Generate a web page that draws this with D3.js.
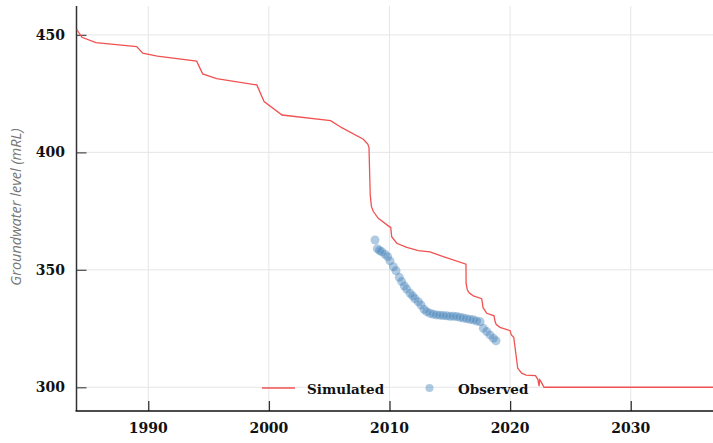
<!DOCTYPE html>
<html>
<head>
<meta charset="utf-8">
<script src="https://cdn.jsdelivr.net/npm/d3@7"></script>
<style>
  html, body { margin: 0; padding: 0; background: #fff; }
  svg { display: block; }
</style>
</head>
<body>
<svg id="chart" width="713" height="443"></svg>
<script>
// ---- data ----
const simYears = [1984.06, 1984.5, 1985.66, 1989.04, 1989.54, 1990.75, 1994.01, 1994.51, 1995.67, 1999.0,
  1999.6, 2001.09, 2005.12, 2006.04, 2007.83, 2008.2, 2008.3, 2008.36, 2008.4, 2008.5,
  2008.66, 2009.07, 2009.98, 2010.1, 2010.18, 2010.6, 2011.43, 2012.39, 2013.36, 2014.46,
  2016.34, 2016.35, 2016.45, 2016.6, 2016.95, 2017.64, 2017.7, 2017.75, 2018.06, 2018.67,
  2018.75, 2018.85, 2019.16, 2020.0, 2020.1, 2020.3, 2020.63, 2020.96, 2021.32, 2022.1,
  2022.3, 2022.4, 2022.45, 2022.55, 2022.81, 2037.0];
const simValues = [452.4, 449.0, 446.7, 445.0, 442.2, 441.0, 438.8, 433.4, 431.4, 428.7,
  421.6, 415.9, 413.5, 410.5, 405.6, 403.5, 402.0, 390.0, 382.0, 377.0,
  374.8, 371.9, 368.4, 368.1, 364.1, 361.3, 359.6, 358.2, 357.6, 355.6,
  352.4, 344.3, 341.5, 340.2, 338.9, 337.7, 336.0, 334.0, 331.5, 330.4,
  328.0, 326.7, 325.5, 324.1, 322.3, 321.3, 308.1, 306.0, 305.2, 305.0,
  303.4, 300.5, 303.2, 302.5, 300.0, 300.0];

const obsYears = [2008.80, 2008.99, 2009.17, 2009.35, 2009.63, 2009.85, 2010.04, 2010.32, 2010.54, 2010.81,
  2011.01, 2011.23, 2011.43, 2011.70, 2011.92, 2012.11, 2012.39, 2012.61, 2012.86, 2013.08,
  2013.36, 2013.63, 2013.91, 2014.19, 2014.46, 2014.74, 2015.02, 2015.29, 2015.57, 2015.85,
  2016.12, 2016.40, 2016.68, 2016.95, 2017.23, 2017.51, 2017.78, 2018.06, 2018.33, 2018.61, 2018.83];
const obsValues = [362.7, 359.0, 358.2, 357.7, 356.6, 355.6, 353.8, 351.3, 349.6, 346.8,
  345.0, 343.1, 341.8, 340.0, 338.9, 337.7, 336.4, 335.0, 333.2, 332.2,
  331.5, 331.1, 330.8, 330.7, 330.5, 330.4, 330.2, 330.2, 330.1, 329.8,
  329.5, 329.2, 328.9, 328.7, 328.2, 327.9, 325.1, 323.7, 322.3, 320.9, 319.8];

const xTicks = [1990, 2000, 2010, 2020, 2030];
const yTicks = [300, 350, 400, 450];
const legendLabels = ["Simulated", "Observed"];
const yTitle = "Groundwater level (mRL)";

// ---- layout ----
const svg = d3.select("#chart");
const pL = 76.5, pR = 713, pT = 6, pB = 411;
const x = d3.scaleLinear().domain([1984.05, 2036.82]).range([pL, pR]);
const y = d3.scaleLinear().domain([289.9, 462.3]).range([pB, pT]);

const lineColor = "#f05252";
const dotColor = "#3a7ab5";
const tickFont = "'DejaVu Serif', serif";
const tickSize = 14;

svg.append("defs").append("clipPath").attr("id", "clip")
  .append("rect").attr("x", pL).attr("y", pT).attr("width", pR - pL).attr("height", pB - pT);

// grid
const grid = svg.append("g");
grid.selectAll("line.v").data(xTicks).join("line")
  .attr("x1", d => x(d)).attr("x2", d => x(d))
  .attr("y1", pT).attr("y2", pB)
  .attr("stroke", "#e6e6e6").attr("stroke-width", 1);
grid.selectAll("line.h").data(yTicks).join("line")
  .attr("x1", pL).attr("x2", pR)
  .attr("y1", d => y(d)).attr("y2", d => y(d))
  .attr("stroke", "#e6e6e6").attr("stroke-width", 1);

// axes
const yAxis = d3.axisRight(y).tickValues(yTicks).tickSize(10).tickFormat("");
const gy = svg.append("g").attr("transform", `translate(${pL},0)`).call(yAxis);
gy.select(".domain").remove();
gy.selectAll(".tick line").attr("stroke", "#555").attr("stroke-width", 1.3);

const xAxis = d3.axisTop(x).tickValues(xTicks).tickSize(10).tickFormat("");
const gx = svg.append("g").attr("transform", `translate(0,${pB})`).call(xAxis);
gx.select(".domain").remove();
gx.selectAll(".tick line").attr("stroke", "#333").attr("stroke-width", 1.3);

svg.append("line").attr("x1", pL).attr("x2", pL).attr("y1", pT).attr("y2", pB)
  .attr("stroke", "#333").attr("stroke-width", 1.5);
svg.append("line").attr("x1", pL - 1).attr("x2", pR).attr("y1", pB).attr("y2", pB)
  .attr("stroke", "#111").attr("stroke-width", 1.5);

// tick labels
svg.append("g").selectAll("text").data(yTicks).join("text")
  .attr("x", 65).attr("y", d => y(d)).attr("dy", "0.36em")
  .attr("text-anchor", "end")
  .attr("font-family", tickFont).attr("font-weight", "bold").attr("font-size", tickSize)
  .attr("fill", "#111").text(d => d);
svg.append("g").selectAll("text").data(xTicks).join("text")
  .attr("x", d => x(d)).attr("y", 433)
  .attr("text-anchor", "middle")
  .attr("font-family", tickFont).attr("font-weight", "bold").attr("font-size", tickSize)
  .attr("fill", "#111").text(d => d);

// y title
svg.append("text")
  .attr("transform", `translate(21,${207}) rotate(-90)`)
  .attr("text-anchor", "middle")
  .attr("font-family", "'Open Sans', sans-serif").attr("font-style", "italic")
  .attr("font-size", 14.5).attr("fill", "#777").text(yTitle);

// simulated line
const simData = simYears.map((d, i) => [d, simValues[i]]);
svg.append("path").datum(simData)
  .attr("clip-path", "url(#clip)")
  .attr("fill", "none").attr("stroke", lineColor).attr("stroke-width", 1.3)
  .attr("d", d3.line().x(d => x(d[0])).y(d => y(d[1])));

// observed points
const obsData = obsYears.map((d, i) => [d, obsValues[i]]);
svg.append("g").selectAll("circle").data(obsData).join("circle")
  .attr("cx", d => x(d[0])).attr("cy", d => y(d[1])).attr("r", 4.5)
  .attr("fill", dotColor).attr("fill-opacity", 0.4);

// legend
const lg = svg.append("g");
lg.append("line").attr("x1", 262).attr("x2", 295).attr("y1", 388).attr("y2", 388)
  .attr("stroke", lineColor).attr("stroke-width", 1.3);
lg.append("text").attr("x", 307).attr("y", 394)
  .attr("font-family", tickFont).attr("font-weight", "bold").attr("font-size", 13.5)
  .attr("fill", "#111").text(legendLabels[0]);
lg.append("circle").attr("cx", 429.5).attr("cy", 388).attr("r", 4)
  .attr("fill", dotColor).attr("fill-opacity", 0.4);
lg.append("text").attr("x", 458).attr("y", 394)
  .attr("font-family", tickFont).attr("font-weight", "bold").attr("font-size", 13.5)
  .attr("fill", "#111").text(legendLabels[1]);
</script>
</body>
</html>
